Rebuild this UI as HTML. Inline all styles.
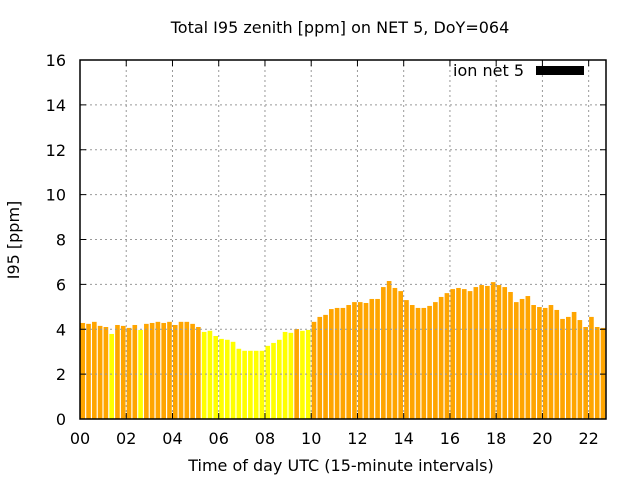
<!DOCTYPE html>
<html><head><meta charset="utf-8"><style>
body{margin:0;background:#fff}
svg{display:block;font-family:"DejaVu Sans","Liberation Sans",sans-serif}
</style></head><body>
<svg id="c" width="640" height="480"></svg>
<script>
const yTicks=[0,2,4,6,8,10,12,14,16];
const xTicks=[0,2,4,6,8,10,12,14,16,18,20,22];
const xTickLabels=["00","02","04","06","08","10","12","14","16","18","20","22"];
const values=[4.28,4.24,4.33,4.15,4.10,3.79,4.19,4.15,4.06,4.19,3.97,4.24,4.28,4.33,4.28,4.33,4.19,4.33,4.33,4.24,4.10,3.88,3.93,3.70,3.57,3.53,3.44,3.13,3.04,3.04,3.04,3.04,3.26,3.39,3.53,3.88,3.84,4.01,3.93,3.97,4.33,4.55,4.64,4.90,4.95,4.95,5.08,5.21,5.21,5.17,5.35,5.35,5.88,6.15,5.84,5.70,5.30,5.08,4.95,4.95,5.04,5.21,5.44,5.61,5.79,5.84,5.79,5.70,5.88,5.97,5.93,6.10,5.97,5.88,5.66,5.21,5.35,5.48,5.08,4.99,4.95,5.08,4.86,4.46,4.55,4.77,4.41,4.10,4.55,4.10,4.06,4.33];
const L=80,R=606,T=60,B=419,xmax=22.75,ymax=16;
const X=v=>L+v/xmax*(R-L), Y=v=>B-v/ymax*(B-T);
const svg=document.getElementById('c'),NS='http://www.w3.org/2000/svg';
function mk(t,a,p){const e=document.createElementNS(NS,t);for(const k in a)e.setAttribute(k,a[k]);(p||svg).appendChild(e);return e;}
const g=mk('g',{});


values.forEach((v,i)=>{const x0=X(i*0.25+0.02),x1=Math.min(X(i*0.25+0.22),R);if(x1<=x0)return;
 const r=mk('rect',{x:x0,y:Y(v),width:x1-x0,height:B-Y(v),fill:v<4?'#ffff00':'#ffa500'},g);
 
 });
yTicks.forEach(v=>{const y=Y(v);
 if(v>0&&v<ymax){const l=mk('line',{x1:L,x2:R,y1:y,y2:y,stroke:'#999','stroke-dasharray':'2,3','stroke-width':1});
 }
 mk('line',{x1:L,x2:L+6,y1:y,y2:y,stroke:'#000'});mk('line',{x1:R,x2:R-6,y1:y,y2:y,stroke:'#000'});
 const t=mk('text',{x:66,y:y+6,'text-anchor':'end','font-size':16});t.textContent=v;
 });
xTicks.forEach((v,i)=>{const x=X(v);
 if(v>0){const l=mk('line',{x1:x,x2:x,y1:T,y2:B,stroke:'#999','stroke-dasharray':'2,3','stroke-width':1});
 }
 mk('line',{x1:x,x2:x,y1:B,y2:B-6,stroke:'#000'});mk('line',{x1:x,x2:x,y1:T,y2:T+6,stroke:'#000'});
 const t=mk('text',{x:x,y:444,'text-anchor':'middle','font-size':16});t.textContent=xTickLabels[i];
 });
const f=mk('rect',{x:L,y:T,width:R-L,height:B-T,fill:'none',stroke:'#000','stroke-width':1.5});

let t=mk('text',{x:340,y:33,'text-anchor':'middle','font-size':16});t.textContent='Total I95 zenith [ppm] on NET 5, DoY=064';

t=mk('text',{x:341,y:471,'text-anchor':'middle','font-size':16});t.textContent='Time of day UTC (15-minute intervals)';

t=mk('text',{x:19,y:240,'text-anchor':'middle','font-size':16,transform:'rotate(-90 19 240)'});t.textContent='I95 [ppm]';

t=mk('text',{x:524,y:76,'text-anchor':'end','font-size':16});t.textContent='ion net 5';

const lr=mk('rect',{x:536,y:66,width:48,height:9,fill:'#000'});

</script>
</body></html>
